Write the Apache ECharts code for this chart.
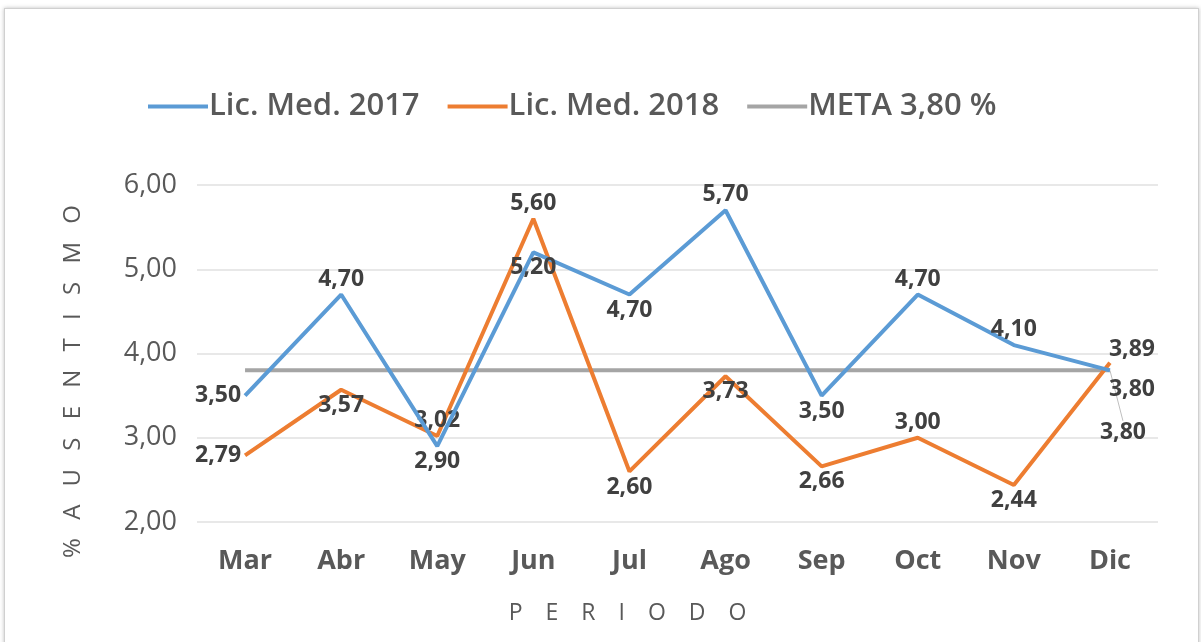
<!DOCTYPE html>
<html><head><meta charset="utf-8">
<script src="https://cdn.jsdelivr.net/npm/echarts@6/dist/echarts.min.js"></script>
<style>
html,body{margin:0;padding:0;background:#fff;}
#frame{position:absolute;left:4px;top:8px;width:1193px;height:640px;border:1px solid #d0d0d0;box-shadow:0 0 4px rgba(0,0,0,0.25);background:#fff;}
#c{position:absolute;left:0;top:0;width:1201px;height:642px;}
</style></head>
<body>
<div id="frame"></div>
<div id="c"></div>
<script>
const categories = ['Mar','Abr','May','Jun','Jul','Ago','Sep','Oct','Nov','Dic'];
const lic2017 = [3.50, 4.70, 2.90, 5.20, 4.70, 5.70, 3.50, 4.70, 4.10, 3.80];
const lic2018 = [2.79, 3.57, 3.02, 5.60, 2.60, 3.73, 2.66, 3.00, 2.44, 3.89];
const meta = [3.80, 3.80, 3.80, 3.80, 3.80, 3.80, 3.80, 3.80, 3.80, 3.80];
const pos2017 = ['left','top','bottom','bottom','bottom','top','bottom','top','top','bottom'];
const pos2018 = ['left','bottom','top','top','bottom','bottom','bottom','top','bottom','top'];
const yTicks = [2, 3, 4, 5, 6];

const fmt = v => v.toFixed(2).replace('.', ',');
const labelStyle = {fontFamily:'Open Sans, sans-serif', fontWeight:'bold', fontSize:23, color:'#404040'};

function mk(vals, pos) {
  return vals.map((v, i) => {
    let off = [0, 0];
    if (i === vals.length - 1) off = [22, pos[i] === 'top' ? 2 : 4];
    return {value: v, label: Object.assign({show:true, position:pos[i], offset:off, distance:4, formatter:p=>fmt(p.value)}, labelStyle)};
  });
}

const spaced = (s, sep) => s.split('').filter(c=>c!==' ').join(sep);

const chart = echarts.init(document.getElementById('c'));
chart.setOption({
  animation:false,
  grid:{left:197, right:43, top:185, bottom:120},
  legend:{
    top:86, left:143,
    itemWidth:60, itemHeight:4, itemGap:28,
    icon:'rect',
    textStyle:{fontFamily:'Open Sans, sans-serif', fontWeight:600, fontSize:31, color:'#595959', padding:[0,0,0,-4]},
    data:['Lic. Med. 2017','Lic. Med. 2018','META 3,80 %']
  },
  xAxis:{
    type:'category', data:categories, boundaryGap:true,
    axisLine:{show:false},
    axisTick:{show:false},
    axisLabel:{fontFamily:'Open Sans, sans-serif', fontWeight:'bold', fontSize:27, color:'#595959', margin:26},
    name:spaced('PERIODO', '\u2003'), nameLocation:'middle', nameGap:80,
    nameTextStyle:{fontFamily:'Open Sans, sans-serif', fontWeight:500, fontSize:23, color:'#595959', padding:[0,100,0,0]}
  },
  yAxis:{
    type:'value', min:yTicks[0], max:yTicks[yTicks.length-1], interval:1,
    axisLine:{show:false}, axisTick:{show:false},
    splitLine:{lineStyle:{color:'#e0e0e0', width:1.5}},
    axisLabel:{formatter:v=>fmt(v), fontFamily:'Open Sans, sans-serif', fontSize:27, color:'#595959', margin:20},
    name:spaced('%AUSENTISMO', '\u2002 '), nameLocation:'middle', nameGap:112, nameRotate:90,
    nameTextStyle:{fontFamily:'Open Sans, sans-serif', fontWeight:500, fontSize:24, color:'#595959', padding:[0,56,0,0]}
  },
  series:[
    {name:'META 3,80 %', type:'line',
     data: meta.map((v,i)=>({value:v, label: i===meta.length-1 ? Object.assign({show:true, position:'right', distance:4, formatter:p=>fmt(p.value)}, labelStyle) : {show:false}})),
     symbol:'circle', symbolSize:0.01, showSymbol:true, lineStyle:{color:'#a5a5a5', width:4}, itemStyle:{color:'#a5a5a5'}, z:1,
     labelLayout:{dx:-14, dy:62},
     labelLine:{show:true, lineStyle:{color:'#bfbfbf', width:1}}},
    {name:'Lic. Med. 2017', type:'line', data: mk(lic2017, pos2017),
     symbol:'circle', symbolSize:0.01, showSymbol:true,
     lineStyle:{color:'#5b9bd5', width:4}, itemStyle:{color:'#5b9bd5'}, z:3},
    {name:'Lic. Med. 2018', type:'line', data: mk(lic2018, pos2018),
     symbol:'circle', symbolSize:0.01, showSymbol:true,
     lineStyle:{color:'#ed7d31', width:4}, itemStyle:{color:'#ed7d31'}, z:2}
  ]
});
</script>
</body></html>
